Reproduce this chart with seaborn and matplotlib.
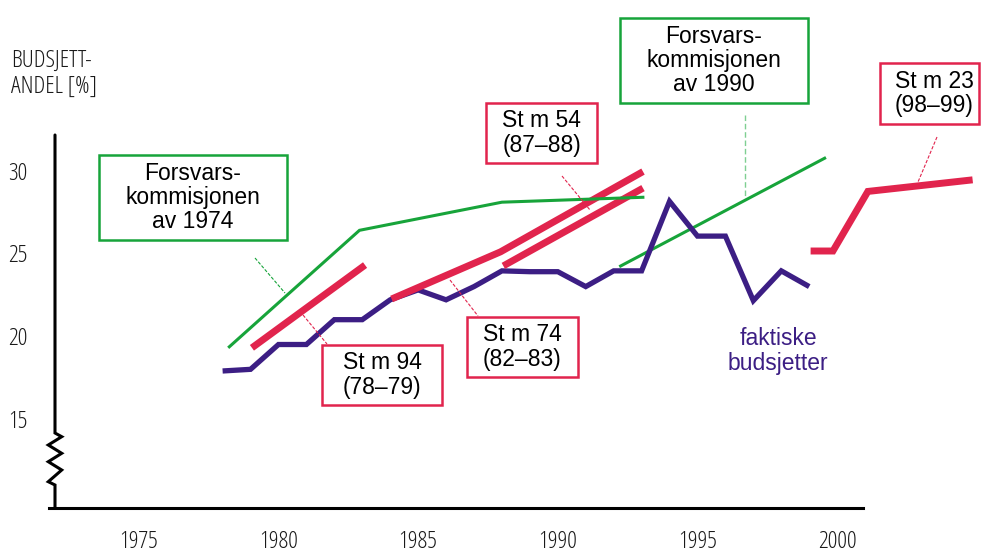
import numpy as np
import pandas as pd
import matplotlib
matplotlib.use("Agg")
import matplotlib.pyplot as plt
from matplotlib.patches import Rectangle
from matplotlib.lines import Line2D
from matplotlib import font_manager as fm
import seaborn as sns

# ---------------- data ----------------
years_actual = [1978, 1979, 1980, 1981, 1982, 1983, 1984, 1985, 1986, 1987, 1988,
                1989, 1990, 1991, 1992, 1993, 1994, 1995, 1996, 1997, 1998, 1999]
share_actual = [17.9, 18.0, 19.5, 19.5, 21.0, 21.0, 22.2, 22.8, 22.2, 23.0, 23.95,
                23.9, 23.9, 23.0, 23.95, 23.95, 28.15, 26.05, 26.05, 22.15, 23.95, 23.0]

fk1974_x = [1978.2, 1982.9, 1988.0, 1993.1]
fk1974_y = [19.3, 26.4, 28.1, 28.4]

fk1990_x = [1992.2, 1999.6]
fk1990_y = [24.2, 30.8]

stm94_x = [1979.05, 1983.1]
stm94_y = [19.3, 24.3]

stm74_x = [1984.05, 1987.95, 1993.05]
stm74_y = [22.25, 25.1, 29.95]

stm54_x = [1988.05, 1993.05]
stm54_y = [24.25, 28.95]

stm23_x = [1999.05, 1999.85, 2001.1, 2004.85]
stm23_y = [25.15, 25.15, 28.75, 29.45]

x_ticks = [1975, 1980, 1985, 1990, 1995, 2000]
y_ticks = [15, 20, 25, 30]

ylabel_text = "BUDSJETT-\nANDEL [%]"
actual_label = "faktiske\nbudsjetter"
fk1974_label = "Forsvars-\nkommisjonen\nav 1974"
fk1990_label = "Forsvars-\nkommisjonen\nav 1990"
stm94_label = "St m 94\n(78–79)"
stm74_label = "St m 74\n(82–83)"
stm54_label = "St m 54\n(87–88)"
stm23_label = "St m 23\n(98–99)"

PURPLE = "#3C1E84"
RED = "#E1244D"
GREEN = "#17A43A"

# ---------------- style ----------------
sns.set_style("white")
plt.rcParams["font.family"] = ["Liberation Sans", "DejaVu Sans"]

def find_font(preds):
    for pred in preds:
        for f in fm.fontManager.ttflist:
            if pred(f):
                return fm.FontProperties(fname=f.fname)
    return fm.FontProperties(family="DejaVu Sans", stretch="condensed")

narrow_fp = find_font([
    lambda f: f.fname.endswith("OpenSans-CondLight.ttf"),
    lambda f: "IBMPlexSansCondensed-Light.ttf" in f.fname,
    lambda f: f.name == "IBM Plex Sans Condensed" and f.weight == 400,
])
NARROW_SIZE = 17.5

W, H = 981, 553
fig = plt.figure(figsize=(W / 100, H / 100), dpi=100)

ax_l, ax_r, ax_t, ax_b = 55, 981, 135, 508
ax = fig.add_axes([ax_l / W, (H - ax_b) / H, (ax_r - ax_l) / W, (ax_b - ax_t) / H])
ax.set_facecolor("none")
ax.set_xlim(1972.0, 2005.15)
ax.set_ylim(9.62, 32.16)

def P(px, py):
    """pixel (from top-left) -> figure fraction"""
    return px / W, 1 - py / H

def line_df(x, y):
    return pd.DataFrame({"x": x, "y": y})

common = dict(x="x", y="y", sort=False, estimator=None, ax=ax, legend=False)

sns.lineplot(data=line_df(years_actual, share_actual), color=PURPLE, linewidth=3.8,
             zorder=3, **common)
sns.lineplot(data=line_df(stm94_x, stm94_y), color=RED, linewidth=5.0, zorder=4, **common)
sns.lineplot(data=line_df(stm74_x, stm74_y), color=RED, linewidth=5.0, zorder=4, **common)
sns.lineplot(data=line_df(stm54_x, stm54_y), color=RED, linewidth=5.0, zorder=4, **common)
sns.lineplot(data=line_df(stm23_x, stm23_y), color=RED, linewidth=5.0, zorder=4, **common)
sns.lineplot(data=line_df(fk1974_x, fk1974_y), color=GREEN, linewidth=2.2, zorder=5, **common)
sns.lineplot(data=line_df(fk1990_x, fk1990_y), color=GREEN, linewidth=2.2, zorder=2, **common)

for ln in ax.get_lines():
    ln.set_solid_capstyle("butt")
    ln.set_solid_joinstyle("miter")
    ln.set_clip_on(False)

# ---------------- axes / spines ----------------
for s in ["top", "right", "left"]:
    ax.spines[s].set_visible(False)
ax.spines["bottom"].set_linewidth(2.2)
ax.spines["bottom"].set_color("black")
ax.spines["bottom"].set_bounds(1971.8, 2000.94)

ax.set_xticks(x_ticks)
ax.set_xticklabels([str(v) for v in x_ticks])
ax.set_yticks(y_ticks)
ax.set_yticklabels([str(v) for v in y_ticks])
ax.tick_params(axis="both", direction="inout", length=10, width=1.6, color="black",
               labelcolor="#1a1a1a")
ax.tick_params(axis="x", pad=11)
ax.tick_params(axis="y", pad=15, length=9.5)
for lab in ax.get_xticklabels() + ax.get_yticklabels():
    lab.set_fontproperties(narrow_fp)
    lab.set_fontsize(NARROW_SIZE)
ax.set_xlabel("")
ax.set_ylabel("")

# left axis with break (zigzag)
zig_px = [(55, 135), (55, 433), (61.7, 436.7), (48.3, 445), (61.7, 453.3),
          (48.3, 461.7), (61.7, 470), (48.3, 481.7), (55, 485), (55, 508)]
fx, fy = zip(*[P(a, b) for a, b in zig_px])
fig.add_artist(Line2D(fx, fy, color="black", linewidth=2.2, solid_joinstyle="miter",
                      transform=fig.transFigure, zorder=6))

# ---------------- y label ----------------
fig.text(*P(11, 74), ylabel_text, fontproperties=narrow_fp, fontsize=NARROW_SIZE,
         color="#1a1a1a", ha="left", va="center", linespacing=1.15)

# ---------------- label boxes ----------------
def box(x0, y0, x1, y1, color, text, tx=None, ty=None):
    fx0, fy1 = P(x0, y0)
    fx1, fy0 = P(x1, y1)
    fig.add_artist(Rectangle((fx0, fy0), fx1 - fx0, fy1 - fy0, transform=fig.transFigure,
                             facecolor="white", edgecolor=color, linewidth=1.8, zorder=7))
    cx = (x0 + x1) / 2 if tx is None else tx
    cy = (y0 + y1) / 2 if ty is None else ty
    fig.text(*P(cx, cy), text, ha="center", va="center", fontsize=16.5, color="black",
             linespacing=1.08, zorder=8)

box(99, 155, 287, 240, GREEN, fk1974_label)
box(620, 18, 808, 103, GREEN, fk1990_label)
box(322, 345, 442, 405, RED, stm94_label)
box(467, 317, 578, 377, RED, stm74_label)
box(486, 103, 597, 163, RED, stm54_label)
box(880, 63, 979, 124, RED, stm23_label, tx=934)

fig.text(*P(778, 351), actual_label, ha="center", va="center", fontsize=16.5,
         color=PURPLE, linespacing=1.08)

# ---------------- leader lines ----------------
def leader(p0, p1, color, lw=0.8, ls=(0, (3, 1.5))):
    (x0, y0), (x1, y1) = P(*p0), P(*p1)
    fig.add_artist(Line2D([x0, x1], [y0, y1], color=color, linewidth=lw, linestyle=ls,
                          transform=fig.transFigure, zorder=6))

leader((255, 258), (285, 293), GREEN)
leader((745, 115), (745, 197), "#7fcf92", lw=1.0, ls=(0, (4, 2)))
leader((303, 315), (327, 344), RED)
leader((450, 280), (478, 316), RED)
leader((562, 176), (590, 210), RED)
leader((937, 137), (918, 182), RED)

fig.savefig("out.png", dpi=100)
